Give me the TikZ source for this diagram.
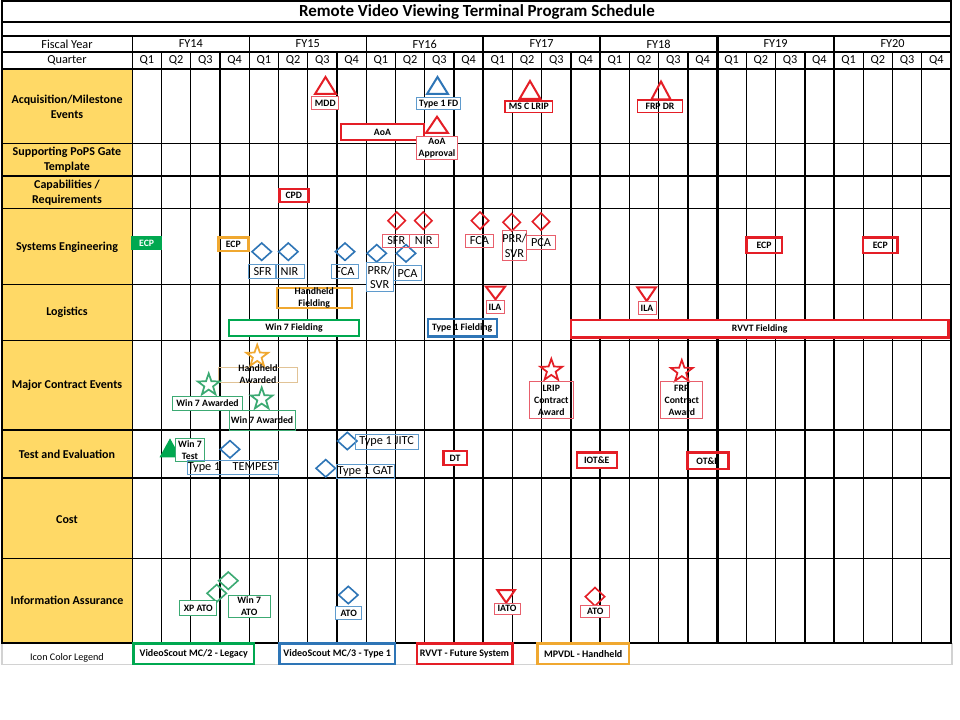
\documentclass[tikz,border=0pt]{standalone}
\usepackage{fontspec}
\setmainfont{Carlito}
\usetikzlibrary{shapes.geometric}
\definecolor{cred}{RGB}{228,30,38}
\definecolor{lred}{RGB}{232,95,108}
\definecolor{cblue}{RGB}{46,117,182}
\definecolor{lblue}{RGB}{95,155,205}
\definecolor{cgreen}{RGB}{0,168,80}
\definecolor{lgreen}{RGB}{60,170,115}
\definecolor{corange}{RGB}{240,168,48}
\definecolor{ltan}{RGB}{225,195,150}
\definecolor{cyellow}{RGB}{255,217,102}
\definecolor{lgray}{RGB}{210,210,210}
\tikzset{
  sz/.style 2 args={minimum width=#1*0.75pt, minimum height=#2*0.75pt},
  tag/.style={draw, inner sep=0pt, outer sep=0pt, align=center, font=\fontsize{7.3}{9}\selectfont\bfseries},
  bigtag/.style={draw, inner sep=0pt, outer sep=0pt, align=center, font=\fontsize{9.2}{11}\selectfont},
  txt/.style={inner sep=0pt, align=center, font=\fontsize{7.3}{9}\selectfont\bfseries},
  hdr/.style={inner sep=0pt, font=\fontsize{9.2}{10}\selectfont},
  rowl/.style={inner sep=0pt, align=center, font=\fontsize{9}{11}\selectfont\bfseries},
  thk/.style={line width=1.8pt},
  thn/.style={line width=0.75pt},
  gridl/.style={line width=1.05pt, black},
  bdia/.style={diamond, draw=cblue, line width=1.2pt, inner sep=0pt, sz={20}{18}},
  rdia/.style={diamond, draw=cred, line width=1.2pt, inner sep=0pt, sz={18}{18}},
  gdia/.style={diamond, draw=lgreen, line width=1.2pt, inner sep=0pt, sz={20}{18}},
  strs/.style={star, star points=5, star point ratio=2.5, minimum size=23*0.75pt, inner sep=0pt, line width=1.3pt, draw=#1},
  tri/.style={line width=1.5pt, draw=#1, line join=miter},
}
\begin{document}
\begin{tikzpicture}[x=0.75pt,y=-0.75pt]
\useasboundingbox (0,0) rectangle (960,720);
\fill[white] (0,0) rectangle (960,720);
\fill[cyellow] (2,69) rectangle (132.3,643);
% legend row frame
\draw[lgray, line width=0.8pt] (2,643) -- (2,664.3) -- (952,664.3) -- (952,643);
% grid
\foreach \i in {1,...,27}{\draw[gridl] ({132.3+29.24*\i},52) -- ({132.3+29.24*\i},643);}
\foreach \i in {4,8,12,16,24}{\draw[gridl] ({132.3+29.24*\i},36) -- ({132.3+29.24*\i},52);}
\draw[gridl] (132.3,36) -- (132.3,643);
\draw[line width=2.2pt] (717.1,36) -- (717.1,643);
\foreach \y in {22,36,52,69,143.3,176,208.7,284.3,340.3,430,478,558.3}{\draw[gridl] (2,\y) -- (951,\y);}
\draw[gridl] (2,1) rectangle (951,643);

% headers
\node[inner sep=0pt, font=\fontsize{12.7}{14}\selectfont\bfseries] (title) at (477,12) {Remote Video Viewing Terminal Program Schedule};
\node[hdr] (fyh) at (67,44) {Fiscal Year};
\node[hdr] (qh) at (67,60.5) {Quarter};
\foreach \k in {0,...,6}{\pgfmathtruncatemacro\yr{14+\k}\node[hdr] (fy\k) at ({132.3+29.24*(4*\k+2)},44) {FY\yr};}
\foreach \i in {0,...,27}{\pgfmathtruncatemacro\q{mod(\i,4)+1}\node[hdr] (q\i) at ({132.3+29.24*(\i+0.5)},60.5) {Q\q};}

% row labels
\node[rowl] (r1) at (67,106.7) {Acquisition/Milestone\\Events};
\node[rowl] (r2) at (67,159.7) {Supporting PoPS Gate\\Template};
\node[rowl] (r3) at (67,192.8) {Capabilities /\\Requirements};
\node[rowl] (r4) at (67,247.3) {Systems Engineering};
\node[rowl] (r5) at (67,312.3) {Logistics};
\node[rowl] (r6) at (67,385.3) {Major Contract Events};
\node[rowl] (r7) at (67,454) {Test and Evaluation};
\node[rowl] (r8) at (67,519.3) {Cost};
\node[rowl] (r9) at (67,600.7) {Information Assurance};
\node[inner sep=0pt, font=\fontsize{7.6}{9}\selectfont] (r10) at (67,658.3) {Icon Color Legend};

% ---- Acquisition / Milestone events
\draw[tri=cred] (325.5,77) -- (336,94) -- (315,94) -- cycle;
\node[tag, draw=lred, thn, fill=white, sz={27.3}{13.3}] (mdd) at (325.3,103.3) {MDD};
\draw[tri=cblue] (437.5,77) -- (448,94) -- (427,94) -- cycle;
\node[tag, draw=lblue, thn, fill=white, sz={44}{12.3}] (t1fd) at (438.7,103.8) {Type 1 FD};
\draw[tri=cred] (530,81) -- (540.5,99) -- (519.5,99) -- cycle;
\node[tag, draw=cred, line width=1pt, fill=white, sz={47.7}{11.7}] (msc) at (528.8,106.8) {MS C LRIP};
\draw[tri=cred] (661,81.5) -- (670.5,99.3) -- (651.5,99.3) -- cycle;
\node[tag, draw=cred, line width=1pt, sz={44.7}{12.7}] (frpdr) at (660,106.3) {FRP DR};
\node[tag, draw=cred, thk, fill=white, sz={83}{16}] (aoa) at (382.5,132) {AoA};
\draw[tri=cred] (437,116.7) -- (448,133) -- (426,133) -- cycle;
\node[tag, draw=lred, thn, fill=white, sz={40.6}{23.3}] (aoaap) at (437,147.7) {AoA\\Approval};

% ---- Capabilities
\node[tag, draw=cred, thk, fill=white, sz={29}{13}] (cpd) at (293.8,195.8) {CPD};

% ---- Systems Engineering
\node[tag, draw=cgreen, fill=cgreen, text=white, sz={30}{12.6}] (ecpg) at (146.7,243) {ECP};
\node[tag, draw=corange, thk, sz={30}{13.3}] (ecpo) at (233.3,244.3) {ECP};
\node[bdia] (bd1) at (261.7,251.7) {};
\node[bdia] (bd2) at (288.3,251.7) {};
\node[bdia] (bd3) at (345,251.7) {};
\node[bdia] (bd4) at (376.7,253.3) {};
\node[bdia] (bd5) at (406,253.3) {};
\node[bigtag, draw=lblue, thn, sz={28.4}{14}] (bsfr) at (262.5,272) {SFR};
\node[bigtag, draw=lblue, thn, sz={29}{14}] (bnir) at (289.5,272) {NIR};
\node[bigtag, draw=lblue, thn, sz={26.6}{14}] (bfca) at (345,272) {FCA};
\node[bigtag, draw=lblue, thn, fill=white, sz={27.3}{29}] (bprr) at (379.7,277.2) {PRR/\\SVR};
\node[bigtag, draw=lblue, thn, sz={28.4}{14.7}] (bpca) at (407.5,273.3) {PCA};
\node[rdia] (rd1) at (396.7,220.7) {};
\node[rdia] (rd2) at (423.3,220.7) {};
\node[rdia] (rd3) at (480,220.7) {};
\node[rdia] (rd4) at (511.7,222.3) {};
\node[rdia] (rd5) at (541,221.7) {};
\node[bigtag, draw=lred, thn, sz={27.3}{13.4}] (rsfr) at (396.3,241) {SFR};
\node[bigtag, draw=lred, thn, sz={29}{13.4}] (rnir) at (423.8,241) {NIR};
\node[bigtag, draw=lred, thn, sz={27.6}{13.4}] (rfca) at (479.5,241) {FCA};
\node[bigtag, draw=lred, thn, sz={24.4}{30}] (rprr) at (514.5,246) {PRR/\\SVR};
\node[bigtag, draw=lred, thn, sz={28.6}{14.3}] (rpca) at (541,242.2) {PCA};
\node[tag, draw=cred, thk, sz={35.4}{15.6}] (ecpr1) at (764,245.5) {ECP};
\node[tag, draw=cred, thk, sz={34.7}{15.6}] (ecpr2) at (880.3,245.5) {ECP};

% ---- Logistics
\node[tag, draw=corange, thk, sz={75}{19.4}] (hhf) at (314.2,298) {Handheld\\Fielding};
\node[tag, draw=cgreen, thk, fill=white, sz={130}{16}] (w7f) at (294,328) {Win 7 Fielding};
\node[tag, draw=cblue, thk, sz={69}{17.7}] (t1f) at (462.2,327.8) {Type 1 Fielding};
\draw[tri=cred] (486,286.7) -- (505,286.7) -- (495.5,299.3) -- cycle;
\node[tag, draw=lred, thn, fill=white, sz={18}{12.6}] (ila1) at (495,307) {ILA};
\draw[tri=cred] (637.3,287.3) -- (656,287.3) -- (646.7,301) -- cycle;
\node[tag, draw=lred, thn, fill=white, sz={18}{13.3}] (ila2) at (647,308.3) {ILA};
\node[tag, draw=cred, thk, fill=white, sz={377.3}{17.3}] (rvvtf) at (759.7,328.7) {RVVT Fielding};

% ---- Major contract events
\node[strs=corange] (st1) at (257.2,356.3) {};
\node[draw=ltan, thn, inner sep=0pt, sz={79.4}{15}] (hhab) at (258,374.8) {};
\node[txt] (hhat) at (258,374.3) {Handheld\\Awarded};
\node[strs=lgreen] (st2) at (208.7,385) {};
\node[tag, draw=lgreen, thn, fill=white, sz={69.6}{14}] (w7a1) at (207.5,403) {Win 7 Awarded};
\node[strs=lgreen] (st3) at (261.7,399) {};
\node[tag, draw=lgreen, thn, sz={66}{20}] (w7a2) at (262,420) {Win 7 Awarded};
\node[strs=cred] (st4) at (551.3,370.3) {};
\node[tag, draw=lred, thn, sz={44}{37.3}] (lrip) at (551.3,400.3) {LRIP\\Contract\\Award};
\node[strs=cred] (st5) at (681.8,371.5) {};
\node[tag, draw=lred, thn, sz={41.7}{36.6}] (frp) at (681.8,400) {FRP\\Contract\\Award};

% ---- Test and Evaluation
\fill[cgreen] (170,438.3) -- (180.5,457.3) -- (159.5,457.3) -- cycle;
\node[tag, draw=lgreen, thn, fill=white, sz={28.6}{22.7}] (w7t) at (190,449.7) {Win 7\\Test};
\node[bdia] (bd6) at (230,449.3) {};
\node[bigtag, draw=lblue, thn, sz={86.7}{14.3}] (tmp) at (233.3,467.8) {Type 1\quad TEMPEST};
\node[bdia] (bd7) at (347.3,441) {};
\node[bigtag, draw=lblue, thn, sz={63.3}{14.7}] (jitc) at (386.7,441.7) {Type 1 JITC};
\node[bdia] (bd8) at (325.7,468.3) {};
\node[bigtag, draw=lblue, thn, sz={58.3}{14.3}] (gat) at (365.2,471.2) {Type 1 GAT};
\node[tag, draw=cred, thk, fill=white, sz={23.4}{14}] (dt) at (455,458) {DT};
\node[tag, draw=cred, thk, fill=white, sz={40}{15.4}] (iote) at (596.7,460) {IOT\&E};
\node[tag, draw=cred, thk, sz={41}{16.7}] (ote) at (707.8,460.7) {OT\&E};

% ---- Information Assurance
\node[gdia] (gd1) at (216.7,593.3) {};
\node[gdia] (gd2) at (228.3,580.7) {};
\node[tag, draw=lgreen, thn, fill=white, sz={36.7}{14.7}] (xpato) at (198.3,608.3) {XP ATO};
\node[tag, draw=lgreen, thn, fill=white, sz={41.7}{21.6}] (w7ato) at (249.2,606.5) {Win 7\\ATO};
\node[bdia] (bd9) at (348.3,595) {};
\node[tag, draw=lblue, thn, fill=white, sz={26}{12.6}] (bato) at (348.7,613) {ATO};
\draw[tri=cred] (497.3,590) -- (515,590) -- (506.2,602.7) -- cycle;
\node[tag, draw=lred, thn, fill=white, sz={26}{11}] (iato) at (507,608.8) {IATO};
\node[rdia, sz={20}{19}] (rd6) at (595,596.7) {};
\node[tag, draw=lred, thn, fill=white, sz={29.3}{11.7}] (rato) at (595.3,611.8) {ATO};

% ---- Legend
\node[tag, draw=cgreen, thk, fill=white, font=\fontsize{7.5}{9}\selectfont\bfseries, sz={120.7}{20.3}] (lg1) at (193.7,653.8) {VideoScout MC/2 - Legacy};
\node[tag, draw=cblue, thk, fill=white, font=\fontsize{7.5}{9}\selectfont\bfseries, sz={115.7}{20.3}] (lg2) at (337.2,653.8) {VideoScout MC/3 - Type 1};
\node[tag, draw=cred, thk, fill=white, font=\fontsize{7.5}{9}\selectfont\bfseries, sz={95.6}{20.3}] (lg3) at (464.5,653.8) {RVVT - Future System};
\node[tag, draw=corange, thk, fill=white, font=\fontsize{7.5}{9}\selectfont\bfseries, sz={91.7}{20.3}] (lg4) at (583.2,653.8) {MPVDL - Handheld};
\end{tikzpicture}
\end{document}
